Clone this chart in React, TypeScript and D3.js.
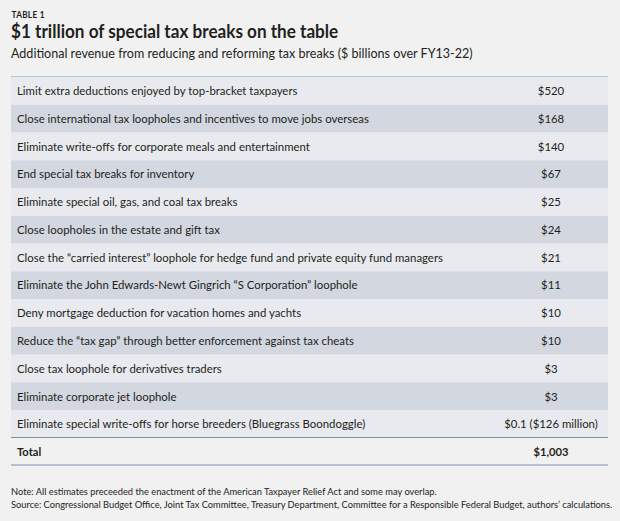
import React from "react";
import * as d3 from "d3";

const items: string[] = [
  "Limit extra deductions enjoyed by top-bracket taxpayers",
  "Close international tax loopholes and incentives to move jobs overseas",
  "Eliminate write-offs for corporate meals and entertainment",
  "End special tax breaks for inventory",
  "Eliminate special oil,  gas, and coal tax breaks",
  "Close loopholes in the estate and gift tax",
  "Close the \u201Ccarried interest\u201D loophole for hedge fund and private equity fund managers",
  "Eliminate the John Edwards-Newt Gingrich \u201CS Corporation\u201D loophole",
  "Deny mortgage deduction for vacation homes and yachts",
  "Reduce the \u201Ctax gap\u201D through better enforcement against tax cheats",
  "Close tax loophole for derivatives traders",
  "Eliminate corporate jet loophole",
  "Eliminate special write-offs for horse breeders (Bluegrass Boondoggle)",
];
const values: number[] = [520, 168, 140, 67, 25, 24, 21, 11, 10, 10, 3, 3, 0.1];
const valueLabels: string[] = ["$520", "$168", "$140", "$67", "$25", "$24", "$21", "$11", "$10", "$10", "$3", "$3", "$0.1 ($126 million)"];
const totalLabel = "Total";
const totalValue = "$1,003";
const kicker = "TABLE 1";
const title = "$1 trillion of special tax breaks on the table";
const subtitle = "Additional revenue from reducing and reforming tax breaks ($ billions over FY13-22)";
const notes: string[] = [
  "Note: All estimates preceeded the enactment of the American Taxpayer Relief Act and some may overlap.",
  "Source: Congressional Budget Office, Joint Tax Committee, Treasury Department, Committee for a Responsible Federal Budget, authors\u2019 calculations.",
];

const W = 620;
const H = 521;
const FONT = "Lato, 'Open Sans', sans-serif";

function T({ x, y, size, weight = 400, anchor = "start", fill = "#231f20", children, ls = 0, sx = 0.95 }: any) {
  return (
    <text
      transform={`translate(${x},${y}) scale(${sx},1)`}
      fontFamily={FONT}
      fontSize={size}
      fontWeight={weight}
      textAnchor={anchor}
      fill={fill}
      letterSpacing={ls}
    >
      {children}
    </text>
  );
}

export default function App() {
  const left = 11;
  const right = 608;
  const y = d3.scaleBand<number>().domain(d3.range(values.length)).range([77, 438]).padding(0);
  const bh = y.bandwidth();
  const valX = 551;
  const totalTop = 437.5;
  const totalBottom = 465;
  return (
    <svg width={W} height={H} style={{ position: "absolute", left: 0, top: 0, display: "block" }}>
      <rect x={0} y={0} width={W} height={H} fill="#f1f1f1" />
      <T x={11.5} y={18.3} size={9} weight={700} ls={0.3} sx={0.92}>{kicker}</T>
      <T x={11} y={37.8} size={18} weight={700} sx={0.952}>{title}</T>
      <T x={11} y={57.5} size={13} weight={400} sx={0.965}>{subtitle}</T>
      {items.map((d, i) => (
        <g key={i}>
          <rect x={left} y={y(i)!} width={right - left} height={bh} fill={i % 2 === 0 ? "#e8eaef" : "#d3d7e0"} />
          <T x={17} y={y(i)! + bh / 2 + 4.2} size={12} sx={0.95}>{d}</T>
          <T x={valX} y={y(i)! + bh / 2 + 4.2} size={12} sx={0.95} anchor="middle">{valueLabels[i]}</T>
        </g>
      ))}
      <line x1={left} x2={right} y1={76.5} y2={76.5} stroke="#b5c4d8" strokeWidth={1} />
      <line x1={left} x2={right} y1={totalTop} y2={totalTop} stroke="#7f8ea5" strokeWidth={1.2} />
      <T x={17} y={(totalTop + totalBottom) / 2 + 4.5} size={12} weight={700} sx={0.93}>{totalLabel}</T>
      <T x={valX} y={(totalTop + totalBottom) / 2 + 4.5} size={12} weight={700} sx={0.93} anchor="middle">{totalValue}</T>
      <line x1={left} x2={right} y1={totalBottom} y2={totalBottom} stroke="#7f8ea5" strokeWidth={1.2} />
      {notes.map((n, i) => (
        <T key={i} x={11} y={495 + i * 13} size={9.6} sx={0.97}>{n}</T>
      ))}
    </svg>
  );
}
